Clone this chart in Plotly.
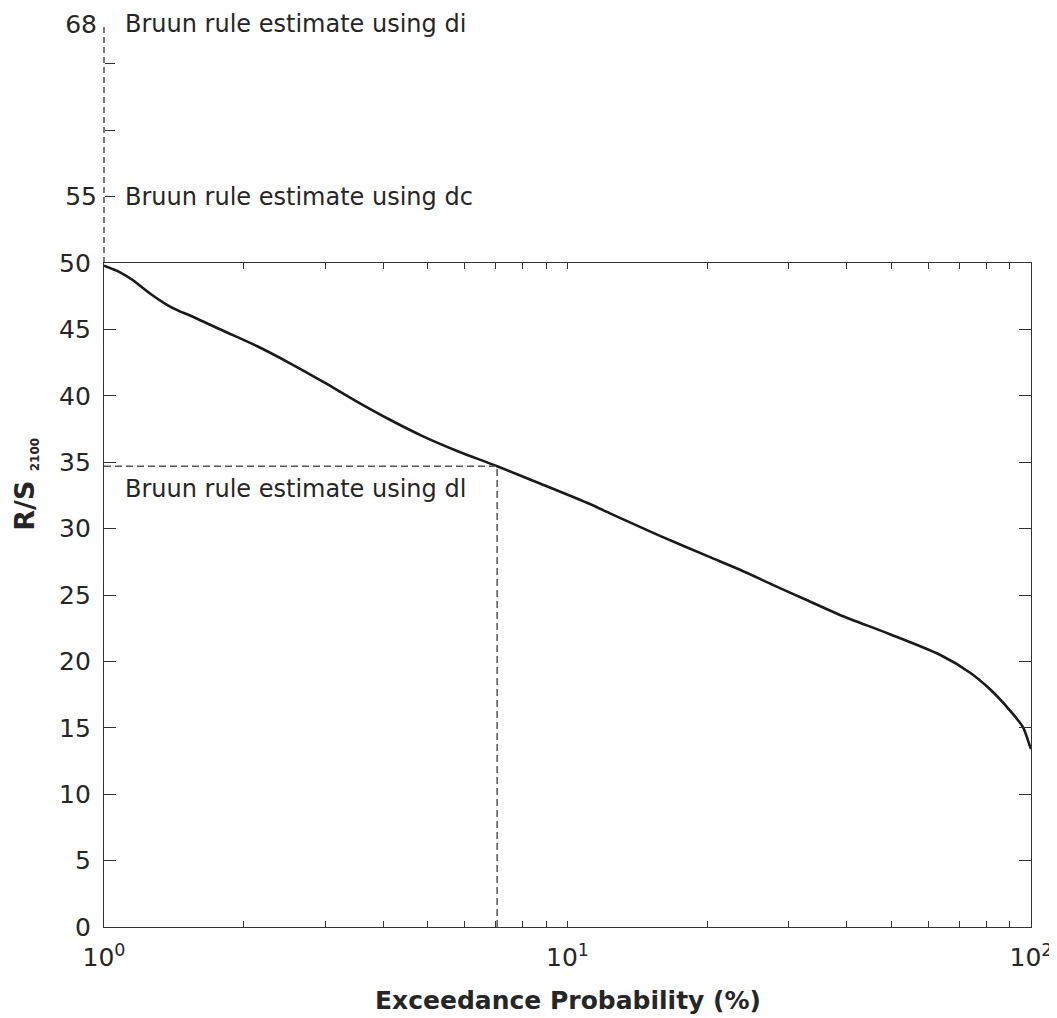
import plotly.graph_objects as go

# ---- data ----
exceed_prob = [1.0, 1.083, 1.155, 1.257, 1.367, 1.45, 1.533, 1.809, 2.136, 2.52, 2.972, 3.52,
               4.14, 4.88, 5.78, 7.05, 8.72, 11.18, 12.35, 15.83, 20.3, 23.56, 27.8,
               32.8, 38.7, 49.6, 63.6, 73.9, 81.6, 90.1, 96.1, 99.5, 100.0]
rs_2100 = [49.8, 49.3, 48.7, 47.7, 46.85, 46.4, 46.05, 44.9, 43.75, 42.45, 41.05, 39.55,
           38.2, 36.95, 35.85, 34.7, 33.4, 31.85, 31.15, 29.45, 27.85, 26.9, 25.75,
           24.62, 23.5, 22.05, 20.5, 19.15, 17.9, 16.3, 15.05, 13.6, 13.4]

dl_prob = 7.05      # exceedance probability of the dl estimate
dl_value = 34.7     # Bruun rule estimate using dl
dc_value = 55       # Bruun rule estimate using dc
di_value = 68       # Bruun rule estimate using di

main_yticks = [0, 5, 10, 15, 20, 25, 30, 35, 40, 45, 50]
upper_yticks = [55, 68]
upper_minor_ticks = [60, 65]
xtick_vals = [1, 10, 100]
xtick_text = ["10<sup>0</sup>", "10<sup>1</sup>", "10<sup>2</sup>"]
xminor_vals = [2, 3, 4, 5, 6, 7, 8, 9, 20, 30, 40, 50, 60, 70, 80, 90]

FONT = "DejaVu Sans"
AX = "#333333"
TXT = "#262626"
split = 50 / 68

fig = go.Figure()

fig.add_trace(go.Scatter(
    x=exceed_prob, y=rs_2100, mode="lines",
    line=dict(color="#1a1a1a", width=2.6, shape="spline", smoothing=0.7),
    showlegend=False, hoverinfo="skip"))

fig.add_trace(go.Scatter(
    x=[exceed_prob[0], dl_prob, dl_prob], y=[dl_value, dl_value, 0], mode="lines",
    line=dict(color="#555555", width=1.5, dash="7px,4px"),
    showlegend=False, hoverinfo="skip"))

# invisible trace so the upper (extended) axis is drawn
fig.add_trace(go.Scatter(
    x=[exceed_prob[0]], y=[dc_value], yaxis="y2", mode="markers",
    marker=dict(opacity=0), showlegend=False, hoverinfo="skip"))

fig.add_shape(type="line", xref="paper", x0=0, x1=0, yref="y2", y0=50, y1=di_value,
              line=dict(color="#333333", width=1.3, dash="6px,4px"))

ann_font = dict(family=FONT, size=24, color=TXT)
fig.add_annotation(x=0.020, xref="paper", y=di_value, yref="y2",
                   text="Bruun rule estimate using di", showarrow=False,
                   xanchor="left", yanchor="middle", font=ann_font)
fig.add_annotation(x=0.020, xref="paper", y=dc_value, yref="y2",
                   text="Bruun rule estimate using dc", showarrow=False,
                   xanchor="left", yanchor="middle", font=ann_font)
fig.add_annotation(x=0.020, xref="paper", y=dl_value - 1.7, yref="y",
                   text="Bruun rule estimate using dl", showarrow=False,
                   xanchor="left", yanchor="middle", font=ann_font)

fig.add_annotation(x=0.5, xref="paper", y=-0.081, yref="paper",
                   text="<b>Exceedance Probability (%)</b>", showarrow=False,
                   xanchor="center", yanchor="middle",
                   font=dict(family=FONT, size=25, color=TXT))
fig.add_annotation(x=-0.085, xref="paper", y=0.49, yref="paper", textangle=-90,
                   text="<b>R/S <sub><span style='font-size:12px'>2100</span></sub></b>",
                   showarrow=False, xanchor="center", yanchor="middle",
                   font=dict(family=FONT, size=27, color=TXT))

fig.update_layout(
    width=1049, height=1010,
    margin=dict(l=96, r=26, t=16, b=91, autoexpand=False),
    paper_bgcolor="white", plot_bgcolor="white",
    font=dict(family=FONT, size=25, color=TXT),
    xaxis=dict(type="log", range=[0, 2], domain=[0, 1], anchor="y", automargin=False,
               showline=True, linecolor=AX, linewidth=1.3, mirror="ticks",
               ticks="inside", ticklen=6, tickwidth=1.3, tickcolor=AX,
               tickvals=xtick_vals, ticktext=xtick_text, ticklabelstandoff=8,
               minor=dict(ticks="inside", ticklen=6, tickwidth=1.3, tickcolor=AX,
                          tickvals=xminor_vals, showgrid=False),
               showgrid=False, zeroline=False,
               tickfont=dict(family=FONT, size=25, color=TXT)),
    yaxis=dict(range=[0, 50], domain=[0, split], anchor="x", automargin=False,
               showline=True, linecolor=AX, linewidth=1.3, mirror="ticks",
               ticks="inside", ticklen=12, tickwidth=1.3, tickcolor=AX,
               tickvals=main_yticks, showgrid=False, zeroline=False,
               ticklabelstandoff=7,
               tickfont=dict(family=FONT, size=25, color=TXT)),
    yaxis2=dict(range=[50, 68], domain=[split, 1], anchor="free", position=0,
                automargin=False,
                showline=False, ticks="inside", ticklen=10, tickwidth=1.3,
                tickcolor=AX, tickvals=upper_yticks,
                minor=dict(ticks="inside", ticklen=10, tickwidth=1.3, tickcolor=AX,
                           tickvals=upper_minor_ticks, showgrid=False),
                showgrid=False, zeroline=False, ticklabelstandoff=7,
                tickfont=dict(family=FONT, size=25, color=TXT)),
)

fig.write_html("out.html")
